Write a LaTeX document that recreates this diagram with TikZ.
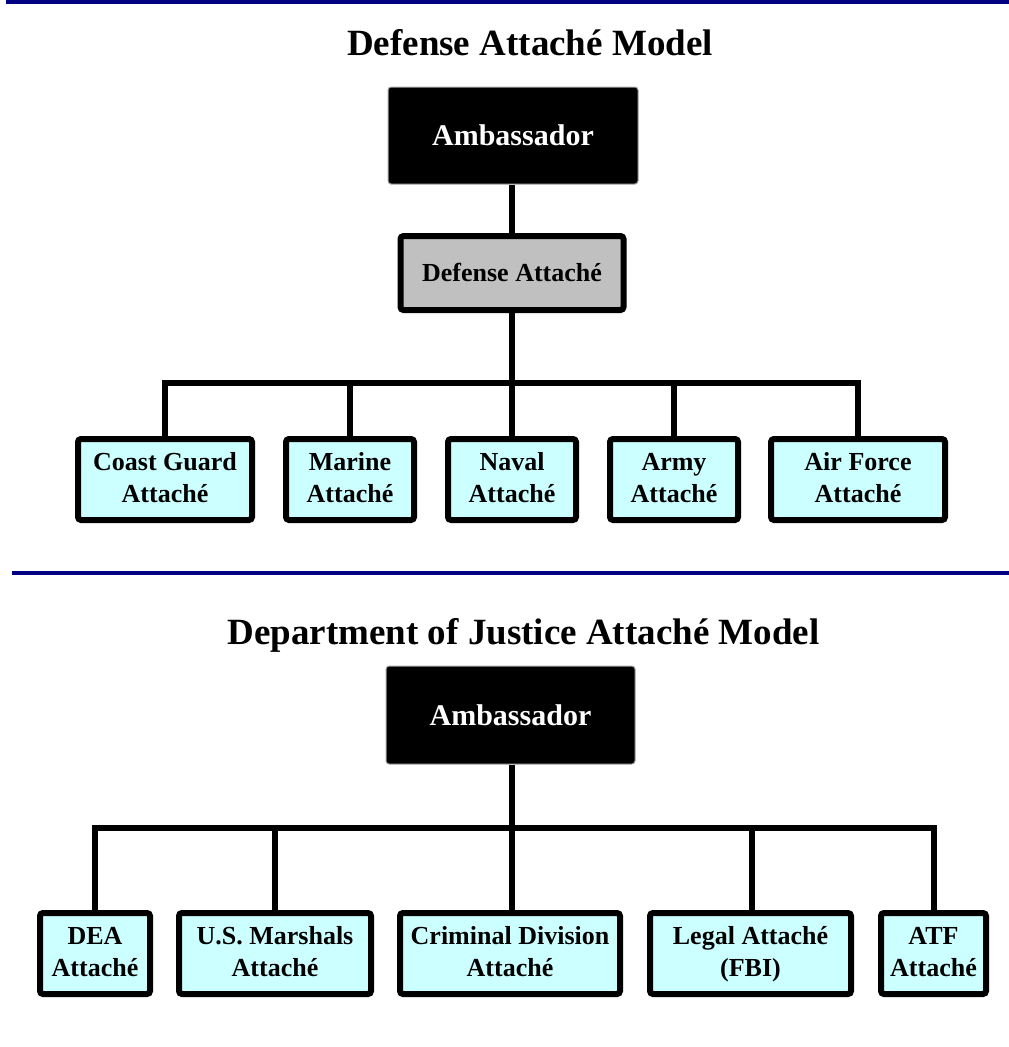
\documentclass[tikz,border=0pt]{standalone}
\usepackage{fontspec}
\setmainfont{Liberation Serif}
\definecolor{navyline}{RGB}{0,0,128}
\definecolor{cyanbox}{RGB}{204,255,255}
\definecolor{greybox}{RGB}{192,192,192}
\pgfdeclarelayer{background}
\pgfsetlayers{background,main}
\newcommand\lntop{\rule{0pt}{19pt}}
\newcommand\lnbot{\rule[-6pt]{0pt}{6pt}}
\begin{document}
\begin{tikzpicture}[x=1pt,y=-1pt,
  title/.style={anchor=base,font=\fontsize{37}{40}\selectfont\bfseries},
  ambbox/.style={fill=black,draw=gray!70,line width=1pt,rounded corners=3pt,inner sep=0pt,
     text=white,font=\fontsize{30}{34}\selectfont\bfseries,text height=20pt,text depth=0pt},
  defbox/.style={fill=greybox,draw=black,line width=6pt,rounded corners=3pt,inner sep=0pt,
     font=\fontsize{26}{32}\selectfont\bfseries,text height=17.5pt,text depth=0pt},
  unitbox/.style={fill=cyanbox,draw=black,line width=6pt,rounded corners=3pt,inner sep=0pt,
     align=center,minimum height=81pt,font=\fontsize{26}{32}\selectfont\bfseries},
  link/.style={draw=black,line width=6pt},
  sepline/.style={draw=navyline,line width=4pt}]
\useasboundingbox (0,0) rectangle (1009,1047);
% separators
\coordinate (s1a) at (6,1.5);
\coordinate (s1b) at (1009,1.5);
\coordinate (s2a) at (12,573);
\coordinate (s2b) at (1009,573);
\draw[sepline] (s1a) -- (s1b);
\draw[sepline] (s2a) -- (s2b);
% ---------- Defense Attache Model ----------
\node[title] (t1) at (530,55) {Defense Attaché Model};
\node[ambbox,minimum width=250pt,minimum height=97pt] (amb1) at (513,135.5) {Ambassador};
\node[defbox,minimum width=223pt,minimum height=74pt] (def) at (512,273) {Defense Attaché};
\node[unitbox,minimum width=174pt] (cg) at (165,479.5) {\lntop Coast Guard\\Attaché\lnbot};
\node[unitbox,minimum width=128pt] (mar) at (350,479.5) {\lntop Marine\\Attaché\lnbot};
\node[unitbox,minimum width=128pt] (nav) at (512,479.5) {\lntop Naval\\Attaché\lnbot};
\node[unitbox,minimum width=128pt] (arm) at (674,479.5) {\lntop Army\\Attaché\lnbot};
\node[unitbox,minimum width=174pt] (af) at (858,479.5) {\lntop Air Force\\Attaché\lnbot};
\coordinate (bar1) at (512,383);
% ---------- Department of Justice Attache Model ----------
\node[title] (t2) at (523.5,644) {Department of Justice Attaché Model};
\node[ambbox,minimum width=249pt,minimum height=98pt] (amb2) at (510.5,715) {Ambassador};
\node[unitbox,minimum width=110pt] (dea) at (95,953.5) {\lntop DEA\\Attaché\lnbot};
\node[unitbox,minimum width=192pt] (usm) at (275,953.5) {\lntop U.S. Marshals\\Attaché\lnbot};
\node[unitbox,minimum width=220pt] (crim) at (510,953.5) {\lntop Criminal Division\\Attaché\lnbot};
\node[unitbox,minimum width=201pt] (leg) at (750.5,953.5) {\lntop Legal Attaché\\(FBI)\lnbot};
\node[unitbox,minimum width=105pt] (atf) at (933.5,953.5) {\lntop ATF\\Attaché\lnbot};
\coordinate (bar2) at (512,828);
\begin{pgfonlayer}{background}
  \path[link] (amb1.south -| def.north) -- (def.north);
  \path[link] (def.south) -- (nav.north);
  \path[link] (cg.north) |- (bar1) -| (af.north);
  \path[link] (mar.north) -- (mar.north |- bar1);
  \path[link] (arm.north) -- (arm.north |- bar1);
  \path[link] (amb2.south -| bar2) -- (crim.north -| bar2);
  \path[link] (dea.north) |- (bar2) -| (atf.north);
  \path[link] (usm.north) -- (usm.north |- bar2);
  \path[link] ([xshift=1.5pt]leg.north) -- ([xshift=1.5pt]leg.north |- bar2);
\end{pgfonlayer}
\end{tikzpicture}
\end{document}
